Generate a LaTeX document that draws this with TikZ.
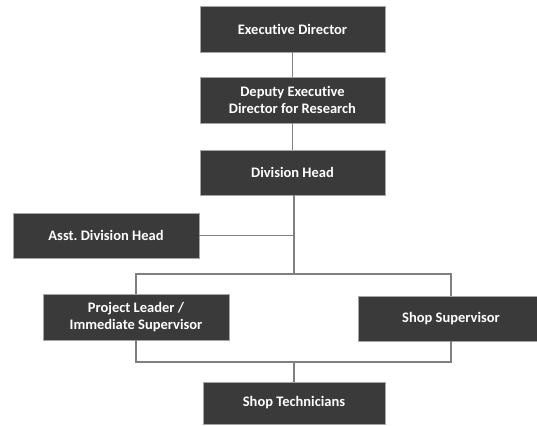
\documentclass[tikz,border=0pt]{standalone}
\usepackage{fontspec}
\setmainfont{Carlito}[Ligatures=NoCommon]
\definecolor{boxgray}{HTML}{3A3A3A}
\definecolor{linegray}{HTML}{7F7F7F}
\tikzset{
  unit/.style={draw=linegray!70, line width=0.6pt, fill=boxgray, text=white,
    font=\fontsize{14.5}{17.5}\selectfont\bfseries, align=center,
    minimum width=185pt, minimum height=46pt, inner sep=0pt},
  link/.style={draw=linegray, line width=1.3pt}
}
\begin{document}
\begin{tikzpicture}[x=1pt,y=-1pt]
    \useasboundingbox[fill=white] (0,0) rectangle (537,425);

    % Cajas
    \node[unit] (ed) at (292.5,29) {Executive Director};
    \node[unit] (dep) at (292.5,100) {Deputy Executive\\Director for Research};
    \node[unit, minimum height=45pt] (div) at (292.5,172.5) {Division Head};
    \node[unit, minimum width=186pt, minimum height=45pt] (asst) at (106,235.5) {Asst.\ Division Head};
    \node[unit, minimum width=186pt] (pl) at (136,317) {Project Leader /\\Immediate Supervisor};
    \node[unit, minimum width=186pt, minimum height=45pt] (ss) at (451,318.5) {Shop Supervisor};
    \node[unit, minimum width=182pt, minimum height=42pt] (st) at (294,403) {Shop Technicians};

    \coordinate (bus) at (294,274);
    \coordinate (low) at (294,362);

    % Lineas
    \draw[link] (ed) -- (dep);
    \draw[link] (dep) -- (div);
    \draw[link] (div.south -| bus) -- (bus);
    \draw[link] (asst) -- (asst -| bus);
    \draw[link] (pl) |- (bus) -| (ss);
    \draw[link] (pl) |- (low) -| (ss);
    \draw[link] (low) -- (st);
\end{tikzpicture}
\end{document}
